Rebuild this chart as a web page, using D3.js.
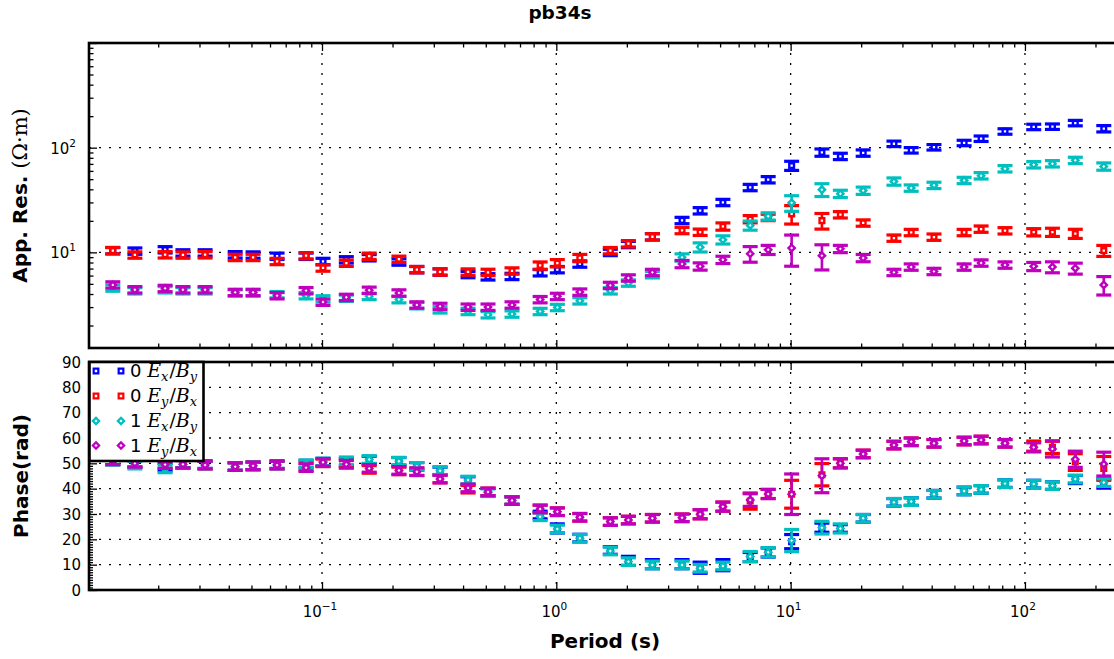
<!DOCTYPE html>
<html>
<head>
<meta charset="utf-8">
<script src="https://cdn.jsdelivr.net/npm/d3@7"></script>
<style>
  body { margin: 0; background: #fff; }
  svg { display: block; font-family: "DejaVu Sans", sans-serif; }
</style>
</head>
<body>
<svg id="chart" width="1114" height="659"></svg>
<script>
// ---- Station pb34s: apparent resistivity and phase, two estimates (0 and 1) ----
const periods = [0.0128, 0.0159, 0.0214, 0.0255, 0.0317, 0.0426, 0.0508, 0.0643, 0.0855, 0.101,
  0.127, 0.159, 0.213, 0.254, 0.319, 0.42, 0.511, 0.647, 0.853, 1.01,
  1.26, 1.70, 2.03, 2.57, 3.44, 4.11, 5.14, 6.72, 8.02, 10.1,
  13.6, 16.3, 20.4, 27.6, 32.7, 40.9, 55.0, 65.0, 82.2, 109,
  131, 164, 217];

// apparent resistivity (ohm m)
const rho0xy = [10.4, 10.3, 10.6, 9.9, 9.9, 9.5, 9.45, 9.2, 9.2, 8.2,
  8.5, 8.9, 8.1, 6.85, 6.5, 6.15, 5.85, 5.9, 6.4, 6.85,
  7.75, 10.0, 11.9, 14.1, 20.2, 25.0, 30.0, 41.7, 49.5, 67.4,
  90, 82.7, 89, 109, 94.5, 101, 111, 122, 143, 158,
  159, 172, 152];
const rho0yx = [10.4, 9.45, 9.5, 9.45, 9.5, 8.96, 8.96, 8.2, 9.3, 7.1,
  7.9, 9.2, 8.6, 6.85, 6.5, 6.5, 6.45, 6.65, 7.5, 7.9,
  8.85, 10.4, 12.1, 14.1, 16.2, 15.6, 17.7, 20.8, 21.6, 23.3,
  20.1, 22.9, 19.1, 13.7, 15.5, 14.0, 15.5, 16.7, 16.1, 15.6,
  15.6, 15.1, 10.4];
const rho1xy = [4.57, 4.3, 4.4, 4.3, 4.3, 4.1, 4.1, 3.95, 3.86, 3.6,
  3.65, 3.8, 3.54, 3.1, 2.83, 2.73, 2.54, 2.58, 2.73, 2.98,
  3.45, 4.3, 5.1, 6.13, 8.96, 11.2, 13.2, 18.1, 22.1, 29.7,
  39.7, 36.3, 38.9, 47.6, 41.2, 43.7, 48.7, 54, 63, 68.8,
  70.3, 75.7, 66.2];
const rho1yx = [4.89, 4.4, 4.53, 4.4, 4.4, 4.15, 4.15, 3.86, 4.31, 3.35,
  3.72, 4.35, 4.1, 3.15, 3.05, 3.0, 3.0, 3.15, 3.54, 3.8,
  4.18, 4.84, 5.7, 6.44, 7.75, 7.35, 8.5, 9.7, 10.6, 11.0,
  9.3, 10.8, 8.84, 6.44, 7.25, 6.58, 7.25, 7.92, 7.58, 7.35,
  7.25, 7.04, 4.89];

// relative resistivity error (percent)
const rhoErr0xy = [7, 7, 7, 7, 7, 7, 7, 7, 7, 7,
  7, 7, 7, 7, 7, 7, 7, 7, 7, 7,
  7, 7, 7, 7, 7, 7, 7, 7, 7, 10,
  8, 7, 7, 6, 6, 6, 6, 6, 6, 6,
  6, 6, 7];
const rhoErr0yx = [7, 7, 7, 7, 7, 7, 7, 7, 7, 7,
  7, 7, 7, 7, 7, 7, 7, 7, 8, 8,
  8, 7, 7, 7, 7, 7, 8, 8, 7, 20,
  17, 7, 7, 7, 7, 7, 7, 7, 7, 8,
  9, 10, 12];
const rhoErr1xy = [7, 7, 7, 7, 7, 7, 7, 7, 7, 7,
  7, 7, 7, 7, 7, 7, 7, 7, 7, 7,
  7, 7, 7, 7, 8, 10, 9, 10, 8, 17,
  14, 8, 8, 8, 7, 7, 7, 7, 7, 7,
  7, 7, 8];
const rhoErr1yx = [7, 7, 7, 7, 7, 7, 7, 7, 7, 7,
  7, 7, 7, 7, 7, 7, 7, 7, 7, 7,
  7, 7, 7, 7, 8, 8, 8, 17, 10, 33,
  27, 8, 8, 7, 7, 7, 7, 7, 7, 9,
  12, 12, 20];

// phase (deg)
const phi0xy = [51, 50, 48.5, 49.8, 49.5, 48.8, 49, 49.5, 49.7, 50.4,
  50.5, 51.3, 50.8, 48.8, 47, 43.2, 38.6, 35.3, 29.6, 24.3,
  20.5, 15.6, 11.5, 10.2, 10.2, 8.8, 9.8, 13.0, 14.8, 19.1,
  24.6, 24.3, 28.3, 34.6, 34.9, 37.8, 39.1, 39.7, 42.0, 41.8,
  41.2, 43.6, 42.0];
const phi0yx = [51, 50, 49.5, 49.6, 49.3, 48.7, 49, 49.3, 48.5, 50.2,
  49.8, 47.6, 47.0, 46.7, 43.8, 39.8, 38.7, 35.3, 32.0, 30.9,
  28.7, 27.0, 27.6, 28.3, 28.5, 29.9, 32.9, 35.1, 37.9, 37.8,
  45.5, 50.0, 53.7, 57.2, 58.5, 57.9, 58.8, 59.2, 57.9, 56.8,
  56.3, 50.5, 48.0];
const phi1xy = [50.8, 49.3, 47.8, 49.6, 49.3, 48.7, 49, 49.3, 49.8, 50.6,
  51, 51.5, 50.8, 48.8, 47.1, 43.4, 38.4, 35.3, 28.9, 24.1,
  20.4, 15.4, 11.2, 9.9, 9.9, 8.6, 9.5, 13.2, 14.9, 19.5,
  24.6, 24.3, 28.3, 34.6, 34.9, 37.8, 39.1, 39.7, 42.0, 41.8,
  41.2, 43.8, 42.4];
const phi1yx = [51, 50, 49.5, 49.6, 49.3, 48.7, 49, 49.3, 48.3, 50.4,
  49.6, 48.0, 47.2, 46.7, 43.8, 40.3, 38.7, 35.3, 32.0, 30.9,
  28.7, 27.0, 27.6, 28.3, 28.5, 29.9, 32.9, 35.5, 37.9, 37.8,
  45.1, 50.0, 53.7, 57.2, 58.5, 57.9, 58.8, 59.2, 57.9, 56.3,
  55.7, 51.6, 49.7];

// phase error (deg)
const phiErr0xy = [1.5, 1.5, 1.5, 1.5, 1.5, 1.5, 1.5, 1.5, 1.5, 1.5,
  1.5, 1.5, 1.5, 1.5, 1.5, 1.5, 1.5, 1.5, 1.5, 1.8,
  1.5, 1.5, 1.8, 1.8, 1.8, 2.2, 2.2, 1.8, 1.8, 2.8,
  1.8, 1.5, 1.5, 1.5, 1.5, 1.5, 1.5, 1.5, 1.5, 1.5,
  1.5, 1.6, 1.8];
const phiErr0yx = [1.5, 1.5, 1.5, 1.5, 1.5, 1.5, 1.5, 1.5, 1.5, 1.5,
  1.5, 1.5, 1.5, 1.5, 1.5, 1.5, 1.5, 1.5, 1.5, 1.5,
  1.5, 1.5, 1.5, 1.5, 1.5, 1.8, 1.8, 3.2, 1.8, 5.5,
  4.4, 1.8, 1.5, 1.5, 1.5, 1.5, 1.5, 1.5, 1.5, 2.0,
  2.4, 3.3, 4.7];
const phiErr1xy = [1.5, 1.5, 1.5, 1.5, 1.5, 1.5, 1.5, 1.5, 1.5, 1.5,
  1.5, 1.5, 1.5, 1.5, 1.5, 1.5, 1.5, 1.5, 1.5, 1.5,
  1.5, 1.5, 1.5, 1.5, 1.5, 1.5, 1.5, 2.0, 1.8, 4.4,
  2.5, 1.8, 1.5, 1.5, 1.5, 1.5, 1.5, 1.5, 1.5, 1.5,
  1.5, 1.5, 1.5];
const phiErr1yx = [1.5, 1.5, 1.5, 1.5, 1.5, 1.5, 1.5, 1.5, 1.5, 1.5,
  1.5, 1.5, 1.5, 1.5, 1.5, 1.5, 1.5, 1.5, 1.5, 1.5,
  1.5, 1.5, 1.5, 1.5, 1.5, 1.8, 1.8, 2.5, 1.8, 8.0,
  6.7, 1.8, 1.5, 1.5, 1.5, 1.5, 1.5, 1.5, 1.5, 1.8,
  3.2, 3.2, 4.7];

const seriesNames = ["0", "0", "1", "1"];
const seriesComps = [["x", "y"], ["y", "x"], ["x", "y"], ["y", "x"]];
const seriesColors = ["#0000ff", "#ff0000", "#00bfbf", "#bf00bf"];
const seriesMarkers = ["square", "square", "diamond", "diamond"];

const xMajorTicks = [0.1, 1, 10, 100];
const xMajorExp = ["\u22121", "0", "1", "2"];
const resMajorTicks = [10, 100];
const resMajorExp = ["1", "2"];
const phaseTicks = [0, 10, 20, 30, 40, 50, 60, 70, 80, 90];

// ---- layout ----
const svg = d3.select("#chart");
const plotL = 89, plotR = 1121;
const resT = 43, resB = 348, phT = 362, phB = 590;

const x = d3.scaleLog().domain([0.01013, 257]).range([plotL, plotR]);
const yRes = d3.scaleLog().domain([1.22, 1000]).range([resB, resT]);
const yPh = d3.scaleLinear().domain([0, 90]).range([phB, phT]);

const xMinor = [];
for (let d = -2; d <= 2; d++) for (let k = 2; k <= 9; k++) {
  const v = k * Math.pow(10, d);
  if (v >= x.domain()[0] && v <= x.domain()[1]) xMinor.push(v);
}
const resMinor = [];
for (let d = 0; d <= 2; d++) for (let k = 2; k <= 9; k++) {
  const v = k * Math.pow(10, d);
  if (v >= yRes.domain()[0] && v <= yRes.domain()[1]) resMinor.push(v);
}
const phMinor = d3.range(0, 91, 1).filter(v => v % 10 !== 0);

const defs = svg.append("defs");
defs.append("clipPath").attr("id", "clipRes").append("rect")
  .attr("x", plotL).attr("y", resT).attr("width", plotR - plotL).attr("height", resB - resT);
defs.append("clipPath").attr("id", "clipPh").append("rect")
  .attr("x", plotL).attr("y", phT).attr("width", plotR - plotL).attr("height", phB - phT);

// ---- grids ----
function grid(g, top, bottom, yScale, yVals) {
  const gg = g.append("g").attr("stroke", "#000").attr("stroke-width", 1.3)
    .attr("stroke-dasharray", "2,8").attr("fill", "none");
  xMajorTicks.forEach(v => gg.append("line")
    .attr("x1", x(v)).attr("x2", x(v)).attr("y1", top).attr("y2", bottom));
  yVals.forEach(v => gg.append("line")
    .attr("x1", plotL).attr("x2", plotR).attr("y1", yScale(v)).attr("y2", yScale(v)));
}
grid(svg, resT, resB, yRes, resMajorTicks);
grid(svg, phT, phB, yPh, [10, 20, 30, 40, 50, 60, 70, 80]);

// ---- ticks (inward) ----
function styleAxis(g) {
  g.select(".domain").remove();
  g.selectAll(".tick line").attr("stroke", "#000").attr("stroke-width", 1.3);
  g.selectAll(".tick text").remove();
}
function xTicks(top, bottom) {
  [[xMajorTicks, 8], [xMinor, 4.5]].forEach(([vals, len]) => {
    svg.append("g").attr("transform", `translate(0,${bottom})`)
      .call(d3.axisBottom(x).tickValues(vals).tickSize(-len).tickFormat(""))
      .call(styleAxis);
    svg.append("g").attr("transform", `translate(0,${top})`)
      .call(d3.axisTop(x).tickValues(vals).tickSize(-len).tickFormat(""))
      .call(styleAxis);
  });
}
xTicks(resT, resB);
xTicks(phT, phB);
svg.append("g").attr("transform", `translate(${plotL},0)`)
  .call(d3.axisLeft(yRes).tickValues([10, 100, 1000]).tickSize(-8).tickFormat("")).call(styleAxis);
svg.append("g").attr("transform", `translate(${plotL},0)`)
  .call(d3.axisLeft(yRes).tickValues(resMinor).tickSize(-4.5).tickFormat("")).call(styleAxis);
svg.append("g").attr("transform", `translate(${plotL},0)`)
  .call(d3.axisLeft(yPh).tickValues(phaseTicks).tickSize(-8).tickFormat("")).call(styleAxis);
svg.append("g").attr("transform", `translate(${plotL},0)`)
  .call(d3.axisLeft(yPh).tickValues(phMinor).tickSize(-4).tickFormat("")).call(styleAxis);

// ---- tick labels ----
function powText(sel, exp) {
  sel.append("tspan").text("10");
  sel.append("tspan").attr("font-size", 10.5).attr("dy", -7).text(exp);
}
xMajorTicks.forEach((v, i) => {
  svg.append("text").attr("x", x(v) - 2).attr("y", 617).attr("text-anchor", "middle")
    .attr("font-size", 15).attr("fill", "#000").call(powText, xMajorExp[i]);
});
resMajorTicks.forEach((v, i) => {
  svg.append("text").attr("x", 76).attr("y", yRes(v) + 6).attr("text-anchor", "end")
    .attr("font-size", 15).attr("fill", "#000").call(powText, resMajorExp[i]);
});
phaseTicks.forEach(v => {
  svg.append("text").attr("x", 81).attr("y", yPh(v) + 5.5).attr("text-anchor", "end")
    .attr("font-size", 15).attr("fill", "#000").text(v);
});

// ---- data: error bars with markers ----
// squares for estimate 0, squares turned 45 degrees (diamonds) for estimate 1
function markerPath(shape) {
  return shape === "square"
    ? d3.symbol(d3.symbolSquare, 22)()
    : d3.symbol(d3.symbolSquare, 20)();
}
function markerRot(shape) { return shape === "square" ? "" : " rotate(45)"; }
function drawSeries(g, yScale, vals, lo, hi, color, shape) {
  const s = g.append("g");
  periods.forEach((p, i) => {
    const cx = x(p);
    const y1 = yScale(lo[i]), y2 = yScale(hi[i]);
    s.append("line").attr("x1", cx).attr("x2", cx).attr("y1", y1).attr("y2", y2)
      .attr("stroke", color).attr("stroke-width", 2.6);
    [y1, y2].forEach(yy => s.append("line")
      .attr("x1", cx - 7.5).attr("x2", cx + 7.5).attr("y1", yy).attr("y2", yy)
      .attr("stroke", color).attr("stroke-width", 3.2));
    s.append("path").attr("d", markerPath(shape))
      .attr("transform", `translate(${cx},${yScale(vals[i])})${markerRot(shape)}`)
      .attr("fill", "#fff").attr("stroke", color).attr("stroke-width", 2.4);
  });
}
const gRes = svg.append("g").attr("clip-path", "url(#clipRes)");
const gPh = svg.append("g").attr("clip-path", "url(#clipPh)");
const rhoSets = [[rho0xy, rhoErr0xy], [rho0yx, rhoErr0yx], [rho1xy, rhoErr1xy], [rho1yx, rhoErr1yx]];
const phiSets = [[phi0xy, phiErr0xy], [phi0yx, phiErr0yx], [phi1xy, phiErr1xy], [phi1yx, phiErr1yx]];
rhoSets.forEach(([vals, errs], k) => {
  drawSeries(gRes, yRes, vals,
    vals.map((v, i) => v * (1 - errs[i] / 100)),
    vals.map((v, i) => v * (1 + errs[i] / 100)),
    seriesColors[k], seriesMarkers[k]);
});
phiSets.forEach(([vals, errs], k) => {
  drawSeries(gPh, yPh, vals,
    vals.map((v, i) => v - errs[i]),
    vals.map((v, i) => v + errs[i]),
    seriesColors[k], seriesMarkers[k]);
});

// ---- frames ----
[[resT, resB], [phT, phB]].forEach(([t, b]) => {
  svg.append("rect").attr("x", plotL).attr("y", t).attr("width", plotR - plotL).attr("height", b - t)
    .attr("fill", "none").attr("stroke", "#000").attr("stroke-width", 2.6);
});

// ---- legend ----
const leg = svg.append("g");
leg.append("rect").attr("x", 89.5).attr("y", 362).attr("width", 114).attr("height", 99)
  .attr("fill", "#fff").attr("stroke", "#000").attr("stroke-width", 2.6);
const rowY = [371, 396, 421, 445.5];
seriesNames.forEach((n, k) => {
  [96, 121].forEach(mx => leg.append("path").attr("d", markerPath(seriesMarkers[k]))
    .attr("transform", `translate(${mx},${rowY[k]})${markerRot(seriesMarkers[k])}`)
    .attr("fill", "#fff").attr("stroke", seriesColors[k]).attr("stroke-width", 2.2));
  const t = leg.append("text").attr("x", 130).attr("y", rowY[k] + 6).attr("font-size", 18).attr("fill", "#000");
  t.append("tspan").text(n + " ");
  const serif = "'DejaVu Serif', serif";
  t.append("tspan").attr("font-family", serif).attr("font-style", "italic").attr("font-size", 19).text("E");
  t.append("tspan").attr("font-family", serif).attr("font-style", "italic").attr("font-size", 13).attr("dy", 4).text(seriesComps[k][0]);
  t.append("tspan").attr("font-family", serif).attr("font-size", 19).attr("dy", -4).attr("dx", 1).text("/");
  t.append("tspan").attr("font-family", serif).attr("font-style", "italic").attr("font-size", 19).text("B");
  t.append("tspan").attr("font-family", serif).attr("font-style", "italic").attr("font-size", 13).attr("dy", 4).text(seriesComps[k][1]);
});

// ---- titles ----
svg.append("text").attr("x", 560).attr("y", 19).attr("text-anchor", "middle")
  .attr("font-size", 18.5).attr("font-weight", "bold").text("pb34s");
svg.append("text").attr("x", (plotL + plotR) / 2).attr("y", 648).attr("text-anchor", "middle")
  .attr("font-size", 20).attr("font-weight", "bold").text("Period (s)");
const resLabel = svg.append("text")
  .attr("transform", `translate(27,${(resT + resB) / 2}) rotate(-90)`)
  .attr("text-anchor", "middle").attr("font-size", 20);
resLabel.append("tspan").attr("font-weight", "bold").text("App. Res. ");
resLabel.append("tspan").attr("font-family", "'DejaVu Serif', serif").attr("font-size", 21).text("(\u03A9\u00B7m)");
svg.append("text")
  .attr("transform", `translate(28,${(phT + phB) / 2}) rotate(-90)`)
  .attr("text-anchor", "middle").attr("font-size", 20).attr("font-weight", "bold").text("Phase(rad)");
</script>
</body>
</html>
